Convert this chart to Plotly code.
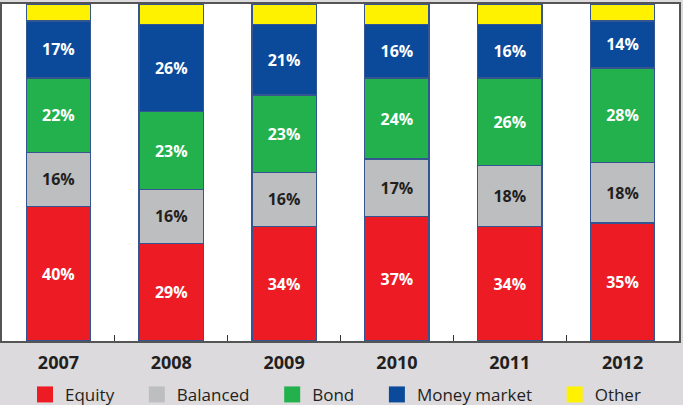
import plotly.graph_objects as go

years = ["2007", "2008", "2009", "2010", "2011", "2012"]
equity = [40, 29, 34, 37, 34, 35]
balanced = [16, 16, 16, 17, 18, 18]
bond = [22, 23, 23, 24, 26, 28]
money_market = [17, 26, 21, 16, 16, 14]
other = [100 - e - b - d - m for e, b, d, m in zip(equity, balanced, bond, money_market)]

series = [
    ("Equity", equity, "#ed1c24", "white", True),
    ("Balanced", balanced, "#bcbec0", "#231f20", True),
    ("Bond", bond, "#22b14c", "white", True),
    ("Money market", money_market, "#0b4a9b", "white", True),
    ("Other", other, "#fff200", "white", False),
]

FONT = "Open Sans"
fig = go.Figure()

for name, vals, color, tcolor, labelled in series:
    fig.add_trace(go.Bar(
        x=years, y=vals, name=name, showlegend=False,
        marker=dict(color=color, line=dict(color="#34558f", width=1.3)),
        text=[f"{v}%" for v in vals] if labelled else None,
        textposition="inside", insidetextanchor="middle",
        textfont=dict(color=tcolor, size=16, family=FONT, weight="bold"),
        hoverinfo="skip",
    ))

# legend entries with larger square swatches
pad = "\u00a0" * 4
for name, vals, color, tcolor, labelled in series:
    fig.add_trace(go.Scatter(
        x=[None], y=[None], mode="markers", name=name + pad,
        marker=dict(symbol="square", size=16, color=color),
    ))

fig.update_layout(
    width=683, height=405,
    barmode="stack", bargap=0.43,
    paper_bgcolor="#dcdadd", plot_bgcolor="white",
    margin=dict(l=2, r=2, t=2, b=64),
    font=dict(family=FONT, color="#231f20"),
    legend=dict(orientation="h", traceorder="normal",
                x=0.034, xanchor="left", y=0.025, yref="container", yanchor="middle",
                font=dict(size=17, family=FONT, color="#231f20"),
                bgcolor="rgba(0,0,0,0)"),
    xaxis=dict(type="category", tickson="boundaries", ticks="inside", ticklen=6,
               tickcolor="#333", tickwidth=1, showline=True, linecolor="#555",
               linewidth=2, mirror=True, showgrid=False,
               tickfont=dict(size=18, family=FONT, color="#231f20", weight="bold"),
               ticklabelstandoff=4),
    yaxis=dict(range=[0, 100], showticklabels=False, showgrid=False, zeroline=False,
               showline=True, linecolor="#555", linewidth=2, mirror=True, ticks=""),
)

fig.write_html("out.html")
